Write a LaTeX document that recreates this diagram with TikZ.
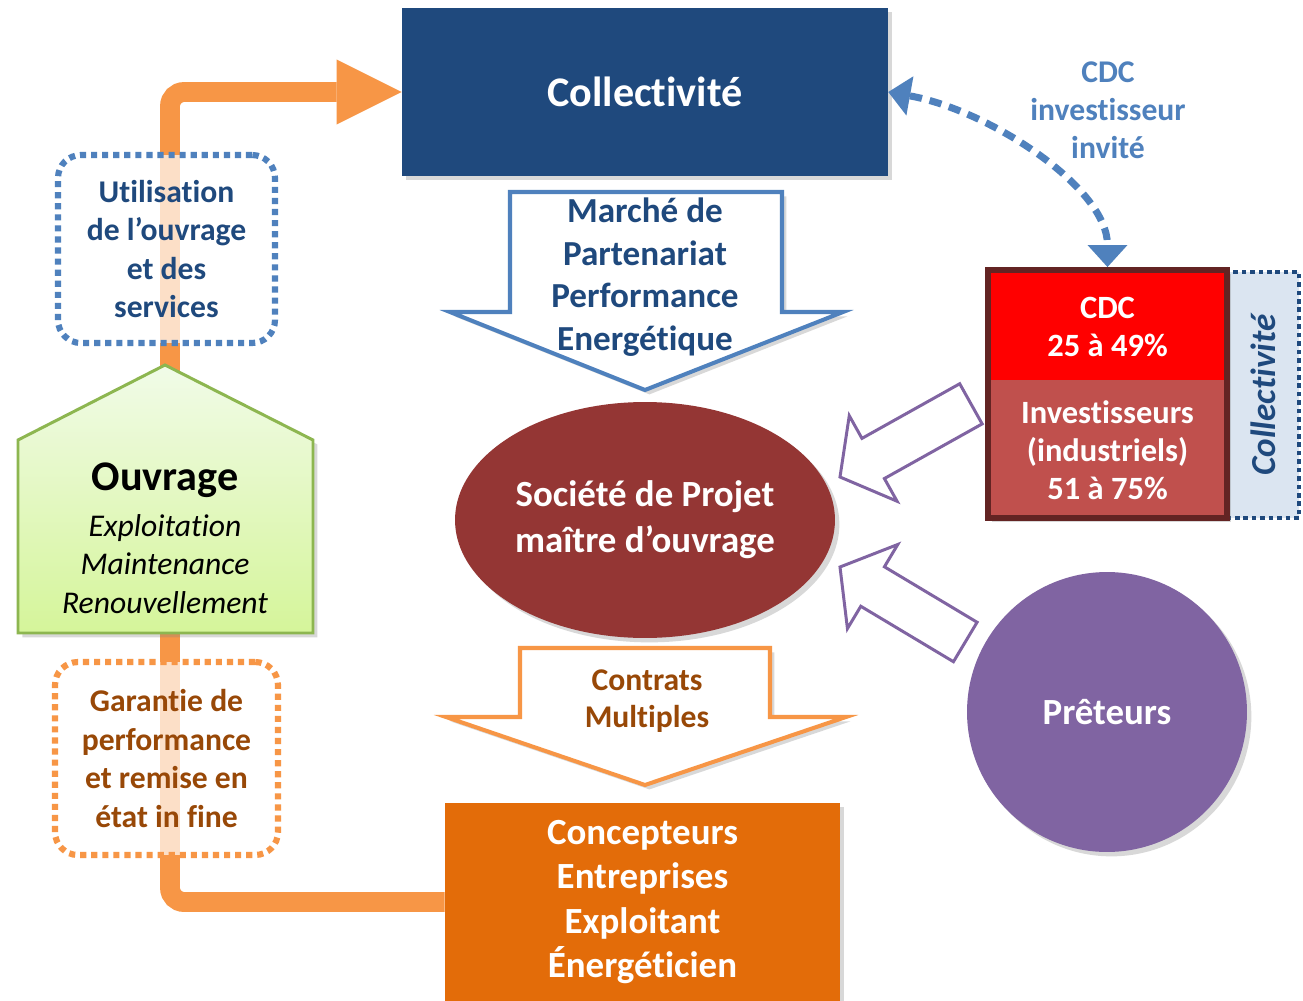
\documentclass[tikz,border=0pt]{standalone}
\usepackage{fontspec}
\setmainfont{Carlito}[Ligatures={NoCommon,NoContextual},RawFeature=-liga,RawFeature=-clig,RawFeature=-calt,RawFeature=-dlig]
\usetikzlibrary{arrows.meta,shapes.geometric,shadows}
\definecolor{navy}{HTML}{1F497D}
\definecolor{mblue}{HTML}{4F81BD}
\definecolor{lorange}{HTML}{F79646}
\definecolor{dorange}{HTML}{E36C09}
\definecolor{brownt}{HTML}{984807}
\definecolor{wine}{HTML}{943634}
\definecolor{cdcred}{HTML}{FF0000}
\definecolor{invred}{HTML}{C0504D}
\definecolor{cdcborder}{HTML}{632423}
\definecolor{paleblue}{HTML}{DBE5F1}
\definecolor{purp}{HTML}{8064A2}
\definecolor{hgreen}{HTML}{8DB650}
\definecolor{gtop}{HTML}{F1FBE8}
\definecolor{gbot}{HTML}{D5F59A}
\newcommand\myfs[2]{\fontsize{#1}{#2}\selectfont}
\begin{document}
\begin{tikzpicture}[x=0.02cm,y=-0.02cm,
 shad/.style={drop shadow={opacity=0.3,shadow xshift=2.5pt,shadow yshift=-2.5pt}},
 txt/.style={align=center,inner sep=0pt},
 flow/.style={line width=11.3pt,draw=lorange,rounded corners=8pt,-{Triangle[length=37pt,width=37pt,line width=0pt]}},
 dotbox/.style={rectangle,rounded corners=13pt,line width=3.5pt,dash pattern=on 3.5pt off 2.8pt,fill=white,fill opacity=0.7,text opacity=1,align=center,inner sep=0pt,font=\bfseries\myfs{18}{22}},
 blockarrow/.style={line width=2.3pt,fill=white,shad},
 padarrow/.style={draw=purp,line width=1.7pt,fill=white},
]
\fill[white] (0,0) rectangle (1303,1001);
\useasboundingbox (0,0) rectangle (1303,1001);

% Collectivite
\node[shad, fill=navy, minimum width=9.72cm, minimum height=3.36cm, text=white, font=\bfseries\myfs{24}{28}] (coll) at (645,92) {Collectivité};

% Concepteurs
\node[shad, fill=dorange, minimum width=7.9cm, minimum height=3.96cm, text=white, txt, font=\bfseries\myfs{21}{25.3}] (conc) at (642.5,902) {Concepteurs\\Entreprises\\Exploitant\\Énergéticien};

% orange flow
\coordinate (bend) at (170,500);
\draw[flow] (conc.west) -| (bend) |- (coll.west);

% Ouvrage house
\path[shad, draw=hgreen, line width=1.7pt, top color=gtop, bottom color=gbot] (165,365) -- (313,440) -- (313,633) -- (18,633) -- (18,440) -- cycle;
\node[txt, font=\bfseries\myfs{24}{28}] (ouvt) at (165,480) {Ouvrage};
\node[txt, font=\itshape\myfs{18}{22}] (ouvi) at (165,564) {Exploitation\\Maintenance\\Renouvellement};

% dotted boxes
\node[dotbox, draw=mblue, text=navy, minimum width=4.34cm, minimum height=3.76cm] (util) at (166.5,249) {Utilisation\\de l’ouvrage\\et des\\services};
\node[dotbox, draw=lorange, text=brownt, minimum width=4.46cm, minimum height=3.86cm] (garant) at (166.5,758.5) {Garantie de\\performance\\et remise en\\état in fine};

% Marche arrow
\path[blockarrow, draw=mblue] (510,192) -- (782,192) -- (782,312) -- (843,312) -- (645,390) -- (450,312) -- (510,312) -- cycle;
\node[txt, text=navy, font=\bfseries\myfs{20}{24.2}] (marche) at (645,277) {Marché de\\Partenariat\\Performance\\Energétique};

% Societe de projet
\node[shad, ellipse, fill=wine, minimum width=7.6cm, minimum height=4.72cm, inner sep=0pt, text=white, align=center, font=\bfseries\myfs{21}{26}] (soc) at (645,520) {Société de Projet\\maître d’ouvrage};

% Contrats arrow
\path[blockarrow, draw=lorange] (520,648) -- (770,648) -- (770,717) -- (846,717) -- (645,785) -- (446,717) -- (520,717) -- cycle;
\node[txt, text=brownt, font=\bfseries\myfs{18}{21}] (contrats) at (647,701) {Contrats\\Multiples};

% side Collectivite box
\node[rotate=90, draw=navy, fill=paleblue, line width=2.6pt, dash pattern=on 2.6pt off 2.2pt, minimum width=4.92cm, minimum height=1.42cm, inner sep=0pt, text=navy, font=\bfseries\itshape\myfs{20}{24}] (side) at (1263.5,395) {Collectivité};

% CDC box
\path[shad, fill=invred] (988,270) rectangle (1227,518);
\fill[cdcred] (988,270) rectangle (1227,380);
\node[draw=cdcborder, line width=3.4pt, minimum width=4.78cm, minimum height=4.96cm, inner sep=0pt] (cdc) at (1107.5,394) {};
\node[txt, text=white, font=\bfseries\myfs{18.5}{21.5}] (cdct) at (1107.5,327) {CDC\\25 à 49\%};
\node[txt, text=white, font=\bfseries\myfs{18.5}{21.5}] (invt) at (1107.5,450.5) {Investisseurs\\(industriels)\\51 à 75\%};

% CDC investisseur invite
\node[txt, text=mblue, font=\bfseries\myfs{18}{21.5}] (cdcinv) at (1108,110) {CDC\\investisseur\\invité};
\draw[mblue, line width=4pt, dash pattern=on 7pt off 4.5pt, {Triangle[length=12.5pt,width=22.7pt,line width=0pt]}-{Triangle[length=12.5pt,width=22.7pt,line width=0pt]}] (coll.east) .. controls +(100,18) and +(0,-80) .. (cdc.north);

% purple block arrows
\begin{scope}[shift={(840,477)}, rotate=29.2]
\path[padarrow] (0,0) -- (38,-49) -- (38,-23) -- (150,-23) -- (150,23) -- (38,23) -- (38,49) -- cycle;
\end{scope}
\begin{scope}[shift={(840,567)}, rotate=-30.9]
\path[padarrow] (0,0) -- (38,-49) -- (38,-23) -- (146,-23) -- (146,23) -- (38,23) -- (38,49) -- cycle;
\end{scope}

% Preteurs
\node[shad, circle, fill=purp, minimum size=5.6cm, inner sep=0pt, text=white, font=\bfseries\myfs{21}{25}] (pret) at (1107,712) {Prêteurs};
\end{tikzpicture}
\end{document}
